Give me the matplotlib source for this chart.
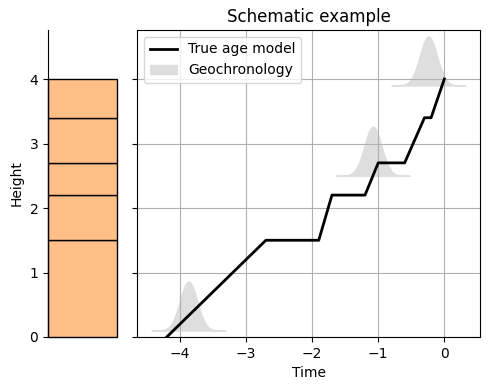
import numpy as np
import matplotlib
matplotlib.use("Agg")
import matplotlib.pyplot as plt
from matplotlib.patches import Patch
from matplotlib.lines import Line2D

# layer boundaries of the section (height)
layer_bottoms = [0.0, 1.5, 2.2, 2.7, 3.4]
layer_tops = [1.5, 2.2, 2.7, 3.4, 4.0]

# true age model
age_time = [-4.2, -2.7, -1.9, -1.7, -1.2, -1.0, -0.6, -0.3, -0.2, 0.0]
age_height = [0.0, 1.5, 1.5, 2.2, 2.2, 2.7, 2.7, 3.4, 3.4, 4.0]

# geochronology samples: centre in time, base height
geo_center = [-3.87, -1.08, -0.24]
geo_base = [0.1, 2.5, 3.9]
geo_sigma = 0.13
geo_amp = 0.76
geo_halfwidth = 0.56

fig = plt.figure(figsize=(4.9, 3.9), dpi=100)
ax0 = fig.add_axes([48/490, 53/390, 69/490, 307/390])
ax1 = fig.add_axes([137/490, 53/390, 343/490, 307/390], sharey=ax0)

# stratigraphic column
for b, t in zip(layer_bottoms, layer_tops):
    ax0.bar(0.5, t - b, bottom=b, width=1, color='#ffbf87', edgecolor='black',
            linewidth=1, clip_on=False)
ax0.set_xlim(0, 1)
ax0.set_ylim(0, 4.76)
ax0.set_xticks([])
for s in ['top', 'right', 'bottom']:
    ax0.spines[s].set_visible(False)
ax0.set_yticks([0, 1, 2, 3, 4])
ax0.set_ylabel('Height')

# age model + dates
for c, b in zip(geo_center, geo_base):
    x = np.linspace(c - geo_halfwidth, c + geo_halfwidth, 200)
    y = b + geo_amp * np.exp(-0.5 * ((x - c) / geo_sigma) ** 2)
    ax1.fill_between(x, b, y, color='#dedede', linewidth=1, edgecolor='#dedede')
ax1.plot(age_time, age_height, color='black', lw=2)
ax1.set_xlim(-4.65, 0.54)
ax1.set_xticks([-4, -3, -2, -1, 0])
ax1.grid(True)
ax1.tick_params(axis='y', labelleft=False)
ax1.set_xlabel('Time')
ax1.set_title('Schematic example')
handles = [Line2D([], [], color='black', lw=2), Patch(color='#dedede')]
ax1.legend(handles, ['True age model', 'Geochronology'], loc='upper left')

fig.savefig('out.png', dpi=100)
